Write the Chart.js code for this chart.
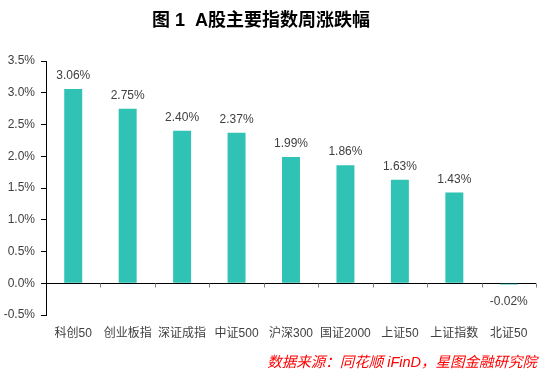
<!DOCTYPE html>
<html>
<head>
<meta charset="utf-8">
<script src="https://cdn.jsdelivr.net/npm/chart.js@4/dist/chart.umd.min.js"></script>
<style>
  html, body { margin: 0; padding: 0; background: #fff; }
  #wrap { width: 554px; height: 375px; position: relative; }
</style>
</head>
<body>
<div id="wrap"><canvas id="chart"></canvas></div>
<script>
// data
const categories = ["科创50", "创业板指", "深证成指", "中证500", "沪深300", "国证2000", "上证50", "上证指数", "北证50"];
const weeklyChange = [3.06, 2.75, 2.40, 2.37, 1.99, 1.86, 1.63, 1.43, -0.02];
const yTicks = [-0.5, 0.0, 0.5, 1.0, 1.5, 2.0, 2.5, 3.0, 3.5];

const titleText = "图 1  A股主要指数周涨跌幅";
const sourceText = "数据来源：同花顺 iFinD，星图金融研究院";

const FONT = '"Liberation Sans", "Noto Sans CJK SC", sans-serif';
const BAR_COLOR = "#30C2B4";

// value labels + little tick marks on the zero line + title/source
const extras = {
  id: "extras",
  afterDatasetsDraw(chart) {
    const { ctx, scales: { x, y }, chartArea } = chart;
    const meta = chart.getDatasetMeta(0);
    ctx.save();
    ctx.font = "12px " + FONT;
    ctx.fillStyle = "#404040";
    ctx.textAlign = "center";
    meta.data.forEach((bar, i) => {
      const v = weeklyChange[i];
      const txt = v.toFixed(2) + "%";
      if (v >= 0) {
        ctx.textBaseline = "bottom";
        ctx.fillText(txt, bar.x, bar.y - 7);
      } else {
        ctx.textBaseline = "top";
        ctx.fillText(txt, bar.x, bar.base + 12);
      }
    });

    // category separator ticks hanging under the 0 line
    const y0 = Math.round(y.getPixelForValue(0)) + 0.5;
    const step = x.getPixelForValue(1) - x.getPixelForValue(0);
    ctx.strokeStyle = "#7f7f7f";
    ctx.lineWidth = 1;
    for (let i = 1; i <= categories.length; i++) {
      const px = Math.round(x.getPixelForValue(i) - step / 2) + 0.5;
      ctx.beginPath();
      ctx.moveTo(px, y0);
      ctx.lineTo(px, y0 + 4);
      ctx.stroke();
    }

    // title
    ctx.fillStyle = "#000";
    ctx.font = "bold 18px " + FONT;
    ctx.textBaseline = "middle";
    ctx.textAlign = "center";
    ctx.fillText(titleText, 261, 21);

    // source note
    ctx.fillStyle = "#FF0000";
    ctx.font = "italic 14.5px " + FONT;
    ctx.textAlign = "right";
    ctx.fillText(sourceText, chartArea.right + 1, 363);
    ctx.restore();
  }
};

new Chart(document.getElementById("chart"), {
  type: "bar",
  data: {
    labels: categories,
    datasets: [{
      data: weeklyChange,
      backgroundColor: BAR_COLOR,
      borderWidth: 0,
      categoryPercentage: 1,
      barPercentage: 0.33
    }]
  },
  options: {
    responsive: true,
    maintainAspectRatio: false,
    animation: false,
    layout: { padding: { top: 61, right: 18, bottom: 0, left: 0 } },
    plugins: {
      legend: { display: false },
      title: { display: false },
      tooltip: { enabled: false }
    },
    scales: {
      x: {
        grid: { display: false, drawTicks: false },
        border: { display: false },
        ticks: {
          color: "#404040",
          font: { size: 12, family: FONT },
          padding: 11,
          maxRotation: 0,
          autoSkip: false
        },
        afterFit(scale) { scale.height = 60; }
      },
      y: {
        min: -0.5,
        max: 3.5,
        afterBuildTicks(scale) { scale.ticks = yTicks.map(v => ({ value: v })); },
        grid: {
          color: c => (c.tick && c.tick.value === 0 ? "#000" : "rgba(0,0,0,0)"),
          tickColor: "#000",
          tickLength: 5,
          lineWidth: 1
        },
        border: { color: "#000", width: 1 },
        ticks: {
          color: "#404040",
          font: { size: 12, family: FONT },
          padding: 6,
          callback: v => Number(v).toFixed(1) + "%"
        },
        afterFit(scale) { scale.width = 46; }
      }
    }
  },
  plugins: [extras]
});
</script>
</body>
</html>
